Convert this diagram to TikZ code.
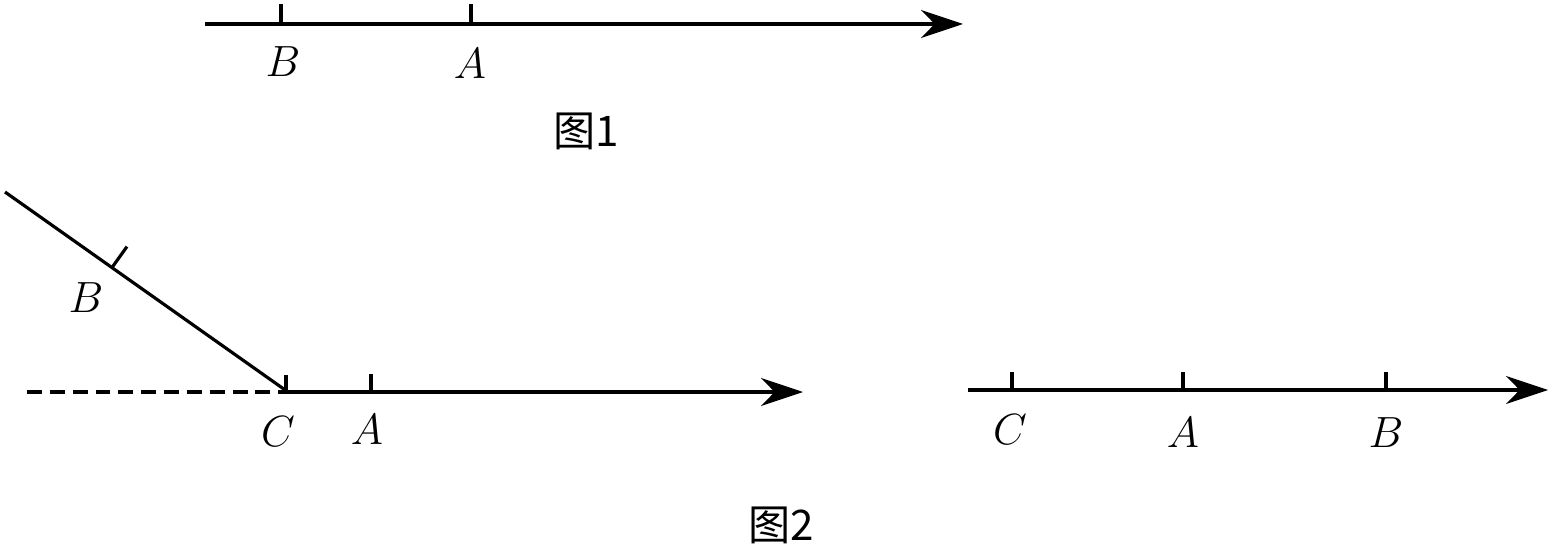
\documentclass[tikz,border=0pt]{standalone}
\usepackage{fontspec}
\newfontfamily\cjk{Noto Sans CJK SC}
\usetikzlibrary{arrows.meta, calc}

\begin{document}
\begin{tikzpicture}[x=0.02cm, y=-0.02cm,
    line width=1.8pt, >={Stealth[length=0.84cm, width=0.56cm]},
    lbl/.style={font=\fontsize{24}{28}\selectfont},
    tick/.style={line width=1.8pt}]
    \useasboundingbox (0,0) rectangle (1550,550);

    % Figure 1
    \coordinate (o1) at (205,24);
    \coordinate (e1) at (963,24);
    \coordinate (b1) at (281,24);
    \coordinate (a1) at (471,24);
    \draw[->] (o1) -- (e1);
    \draw[tick] (b1) -- ++(0,-20);
    \draw[tick] (a1) -- ++(0,-20);
    \node[lbl] (lb1) at (283,62) {$B$};
    \node[lbl] (la1) at (470,64) {$A$};
    \node[lbl] (cap1) at (586,131) {\cjk 图1};

    % Figure 2, left
    \coordinate (c2) at (288,392);
    \coordinate (b2end) at (5,192);
    \coordinate (d2) at (27,392);
    \coordinate (e2) at (803,392);
    \coordinate (a2) at (371,392);
    \coordinate (b2) at ($(c2)!0.622!(b2end)$);
    \draw (c2) -- (b2end);
    \draw[dash pattern=on 8.5pt off 4.5pt] (d2) -- (c2);
    \draw[->] (c2) -- (e2);
    \draw[tick] (286,392) -- ++(0,-17);
    \draw[tick] (a2) -- ++(0,-18);
    \draw[tick] (b2) -- ++(15,-21);
    \node[lbl] (lb2) at (86,298) {$B$};
    \node[lbl] (lc2) at (278,432) {$C$};
    \node[lbl] (la2) at (367,430) {$A$};

    % Figure 2, right
    \coordinate (o3) at (968,390);
    \coordinate (e3) at (1548,390);
    \draw[->] (o3) -- (e3);
    \foreach \x in {1012, 1183, 1386}{
        \draw[tick] (\x,390) -- ++(0,-18);
    }
    \node[lbl] (lc3) at (1010,430) {$C$};
    \node[lbl] (la3) at (1183,433) {$A$};
    \node[lbl] (lb3) at (1386,433) {$B$};

    \node[lbl] (cap2) at (781,525) {\cjk 图2};
\end{tikzpicture}
\end{document}
